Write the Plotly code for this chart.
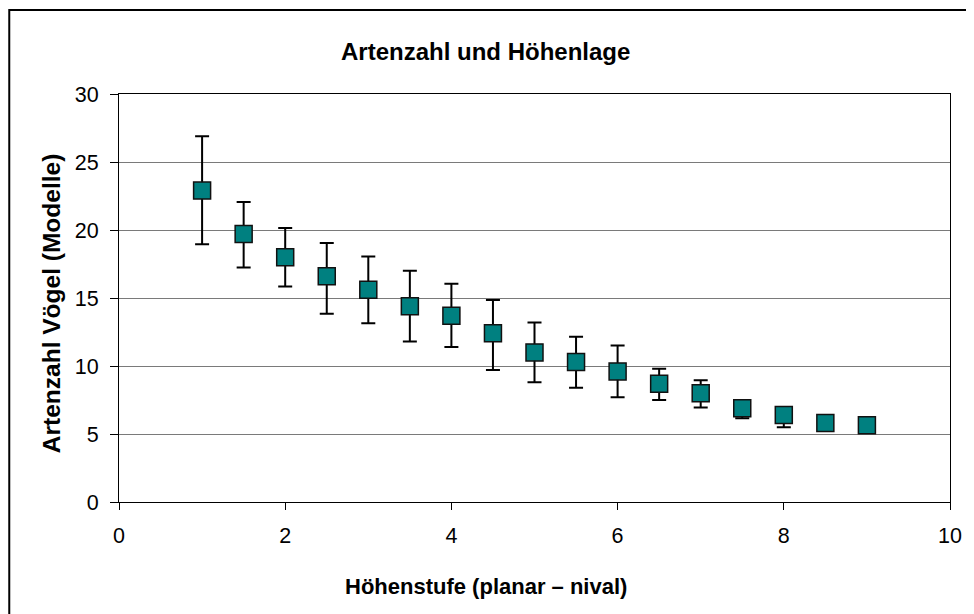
import plotly.graph_objects as go

hoehenstufe = [1, 1.5, 2, 2.5, 3, 3.5, 4, 4.5, 5, 5.5, 6, 6.5, 7, 7.5, 8, 8.5, 9]
artenzahl = [22.9, 19.7, 18.0, 16.6, 15.6, 14.4, 13.7, 12.4, 11.0, 10.3, 9.6, 8.7, 8.0, 6.9, 6.4, 5.8, 5.65]
fehler_plus = [4.0, 2.35, 2.15, 2.45, 2.45, 2.6, 2.35, 2.45, 2.2, 1.85, 1.9, 1.1, 0.95, 0.5, 0.5, 0.3, 0.2]
fehler_minus = [3.95, 2.45, 2.15, 2.75, 2.45, 2.6, 2.3, 2.7, 2.2, 1.9, 1.9, 1.2, 1.05, 0.75, 0.9, 0.4, 0.3]

x_ticks = [0, 2, 4, 6, 8, 10]
y_ticks = [0, 5, 10, 15, 20, 25, 30]

titel = "Artenzahl und Höhenlage"
x_titel = "Höhenstufe (planar – nival)"
y_titel = "Artenzahl Vögel (Modelle)"

FONT = "Liberation Sans, Arial, sans-serif"

fig = go.Figure()
fig.add_trace(go.Scatter(
    x=hoehenstufe, y=artenzahl, mode="markers",
    marker=dict(symbol="square", size=17, color="#008080",
                line=dict(color="#111111", width=1.5)),
    error_y=dict(type="data", symmetric=False, array=fehler_plus,
                 arrayminus=fehler_minus, color="#000000", thickness=2, width=7),
    showlegend=False,
))

# page has an 8px body margin; figure placed at (8, 8)
W, H = 966, 606
L, R, T, B = 111, 22, 86, 112
pw, ph = W - L - R, H - T - B


def px_x(p):
    return (p - L) / pw


def px_y(p):
    return (H - B - p) / ph


fig.add_shape(type="rect", xref="paper", yref="paper",
              x0=px_x(1), x1=px_x(964), y0=px_y(620), y1=px_y(2),
              line=dict(color="#000000", width=2), layer="below")

fig.add_annotation(text=titel, xref="paper", yref="paper",
                   x=px_x(478), y=px_y(44), xanchor="center", yanchor="middle",
                   showarrow=False,
                   font=dict(family=FONT, size=24, weight="bold", color="#000000"))
fig.add_annotation(text=x_titel, xref="paper", yref="paper",
                   x=px_x(479), y=px_y(578), xanchor="center", yanchor="middle",
                   showarrow=False,
                   font=dict(family=FONT, size=22, weight="bold", color="#000000"))
fig.add_annotation(text=y_titel, xref="paper", yref="paper", textangle=-90,
                   x=px_x(43), y=px_y(296), xanchor="center", yanchor="middle",
                   showarrow=False,
                   font=dict(family=FONT, size=24.5, weight="bold", color="#000000"))

fig.update_layout(
    width=W, height=H,
    margin=dict(l=L, r=R, t=T, b=B),
    paper_bgcolor="white", plot_bgcolor="white",
    font=dict(family=FONT, color="#000000"),
    xaxis=dict(range=[0, 10], tickvals=x_ticks, ticks="outside", ticklen=7,
               tickcolor="#000000", tickwidth=1, showgrid=False, zeroline=False,
               showline=True, linecolor="#000000", linewidth=1, mirror=True,
               tickfont=dict(size=21.5), ticklabelstandoff=7),
    yaxis=dict(range=[0, 30], tickvals=y_ticks, ticks="outside", ticklen=8,
               tickcolor="#000000", tickwidth=1, showgrid=True,
               gridcolor="#7a7a7a", gridwidth=1, zeroline=False,
               showline=True, linecolor="#000000", linewidth=1, mirror=True,
               tickfont=dict(size=21.5), ticklabelstandoff=7),
)

fig.write_html("out.html")
